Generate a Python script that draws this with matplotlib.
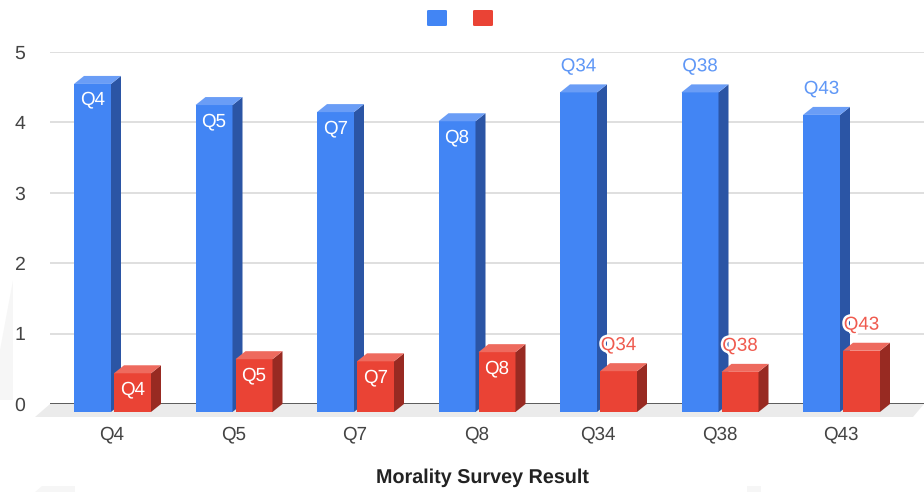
import numpy as np
import matplotlib
matplotlib.use('Agg')
import matplotlib.pyplot as plt
import matplotlib.patheffects as pe
from matplotlib.patches import FancyBboxPatch, Polygon

plt.rcParams['font.family'] = ['Liberation Sans', 'DejaVu Sans']
plt.rcParams['text.hinting'] = 'no_hinting'
plt.rcParams['text.kerning_factor'] = 6

categories = ['Q4', 'Q5', 'Q7', 'Q8', 'Q34', 'Q38', 'Q43']
blue_values = [4.66, 4.36, 4.26, 4.13, 4.54, 4.54, 4.22]
red_values = [0.55, 0.75, 0.72, 0.85, 0.58, 0.57, 0.87]
blue_inside = [True, True, True, True, False, False, False]
red_inside = [True, True, True, True, False, False, False]

W, H = 924, 492
fig = plt.figure(figsize=(W / 100, H / 100), dpi=100)
# axes box is the back wall of the 3d looking plot
ax = fig.add_axes([50 / W, 1 - 404 / H, (W - 50) / W, 352 / H])

px_x = 121.5
px_y = 70.4
ax.set_xlim(-62 / px_x, (W - 112) / px_x)
ax.set_ylim(0, 5)

bar_w = 37 / px_x
dx = 10 / px_x
dy = 8 / px_y


def draw_bars(x0, values, front, side, top, zo):
    for i, v in enumerate(values):
        l = i + x0
        r = l + bar_w
        t = v - dy
        ax.bar(l, v, bar_w, bottom=-dy, align='edge', color=front, zorder=zo, clip_on=False)
        ax.fill([r, r + dx, r + dx, r], [-dy, 0, v, t], color=side, lw=0, zorder=zo, clip_on=False)
        ax.fill([l, l + dx, r + dx, r], [t, v, v, t], color=top, lw=0, zorder=zo, clip_on=False)


def draw_labels(x0, values, inside, color, zo):
    for i, v in enumerate(values):
        xc = i + x0 + bar_w / 2
        t = v - dy
        if inside[i]:
            ax.text(xc, t - 16 / px_y, categories[i], color='white', fontsize=13.5, ha='center',
                    va='center', zorder=zo, clip_on=False)
        else:
            ax.text(xc, t + 26 / px_y, categories[i], color=color, fontsize=13.5, ha='center',
                    va='center', zorder=zo, clip_on=False,
                    path_effects=[pe.withStroke(linewidth=3.5, foreground='white')])


# faint shapes in the page background
for pts in [[(13, 280), (13, 400), (0, 400), (0, 350)],
            [(35, 492), (42, 486), (75, 486), (75, 492)],
            [(747, 486), (761, 486), (761, 492), (747, 492)]]:
    fig.add_artist(Polygon([(x / W, 1 - y / H) for x, y in pts], transform=fig.transFigure,
                           fc='#f6f6f6', ec='none', zorder=-1))

# floor
fx = ax.get_xlim()
ax.fill([fx[0], fx[1], 913 / px_x - 112 / px_x, 35 / px_x - 112 / px_x],
        [0, 0, -13 / px_y, -13 / px_y], color='#ebebeb', lw=0, zorder=1, clip_on=False)

ax.yaxis.grid(True, color='#d9d9d9', lw=1.2, zorder=0)
ax.set_axisbelow(True)
ax.axhline(0, color='#444444', lw=1.2, zorder=2)

draw_bars(-38 / px_x, blue_values, '#4285f4', '#2b55a5', '#6a9df6', 3)
draw_bars(2 / px_x, red_values, '#ea4335', '#982a22', '#ee6a5e', 4)
draw_labels(-38 / px_x, blue_values, blue_inside, '#5f97f6', 6)
draw_labels(2 / px_x, red_values, red_inside, '#ef5a4e', 6)

for s in ax.spines.values():
    s.set_visible(False)
ax.patch.set_visible(False)
ax.set_xticks(np.arange(len(categories)))
ax.set_xticklabels(categories, fontsize=13.5, color='#444444')
ax.set_yticks([0, 1, 2, 3, 4, 5])
ax.tick_params(axis='x', length=0, pad=15.5)
ax.tick_params(axis='y', length=0, pad=18, labelsize=14, labelcolor='#444444')
ax.set_xlabel('Morality Survey Result', fontsize=14.2, fontweight='bold', color='#222222')
ax.xaxis.set_label_coords((482 - 50) / (W - 50), -(477.5 - 404) / 352)
ax.xaxis.label.set_va('center')

# legend squares, no text in the original
for x0, c in [(427, '#4285f4'), (473, '#ea4335')]:
    fig.add_artist(FancyBboxPatch((x0 / W, 1 - 26 / H), 20 / W, 16 / H,
                                  boxstyle='round,pad=0,rounding_size=0.002',
                                  transform=fig.transFigure, fc=c, ec='none'))

fig.savefig('out.png', dpi=100)
